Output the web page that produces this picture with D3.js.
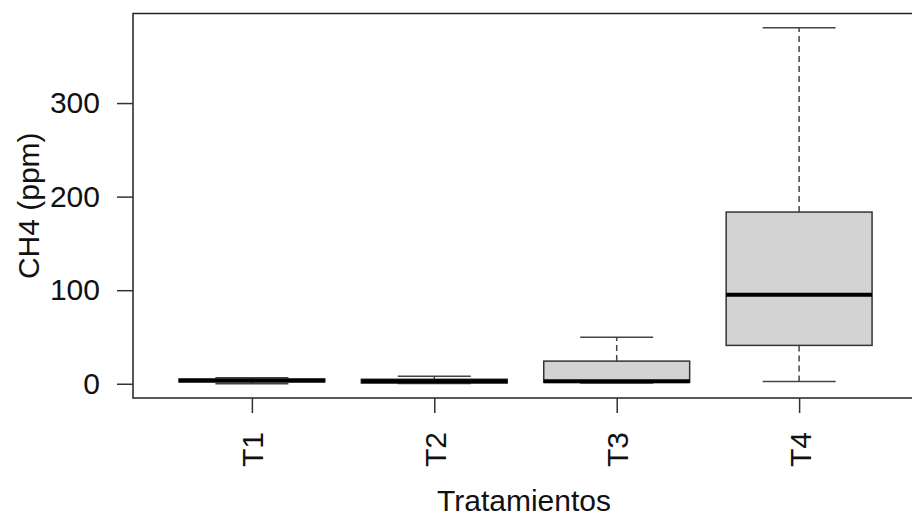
<!DOCTYPE html>
<html>
<head>
<meta charset="utf-8">
<script src="https://cdn.jsdelivr.net/npm/d3@7"></script>
<style>
  html, body { margin: 0; padding: 0; background: #fff; }
  svg { display: block; }
  text { font-family: "Liberation Sans", Arial, sans-serif; fill: #111; }
</style>
</head>
<body>
<svg id="chart" width="912" height="518"></svg>
<script>
// Treatments and their five-number summaries (CH4, ppm)
const categories = ["T1", "T2", "T3", "T4"];
const lowerWhisker = [0.0, 0.3, 0.8, 2.5];
const q1 = [2.0, 0.8, 1.5, 41.0];
const median = [3.6, 2.7, 2.7, 95.2];
const q3 = [5.0, 4.8, 24.2, 183.5];
const upperWhisker = [6.5, 8.0, 49.8, 380.5];
const yTicks = [0, 100, 200, 300];

const xTitle = "Tratamientos";
const yTitle = "CH4 (ppm)";

const svg = d3.select("#chart");
const fontSize = 30;

// Plot region (base-graphics style, 4% padding on both axes)
const plotLeft = 133, plotRight = 921, plotTop = 13.5, plotBottom = 398;

const yMin = d3.min(lowerWhisker), yMax = d3.max(upperWhisker);
const yPad = (yMax - yMin) * 0.04;
const y = d3.scaleLinear().domain([yMin - yPad, yMax + yPad]).range([plotBottom, plotTop]);

const n = categories.length;
const xPad = n * 0.04;
const x = d3.scaleLinear().domain([0.5 - xPad, n + 0.5 + xPad]).range([plotLeft - 1.5, plotRight - 1.5]);

const boxW = x(1.8) - x(1.0);      // box width: 0.8 of a slot
const capW = boxW / 2;             // staple width

const data = categories.map((c, i) => ({
  name: c, pos: i + 1,
  lo: lowerWhisker[i], q1: q1[i], med: median[i], q3: q3[i], hi: upperWhisker[i]
}));

const g = svg.append("g");

const boxes = g.selectAll("g.box").data(data).join("g").attr("class", "box");

// dashed whiskers
boxes.append("line")
  .attr("x1", d => x(d.pos)).attr("x2", d => x(d.pos))
  .attr("y1", d => y(d.q3)).attr("y2", d => y(d.hi))
  .attr("stroke", "#444").attr("stroke-width", 1.5).attr("stroke-dasharray", "6,4");
boxes.append("line")
  .attr("x1", d => x(d.pos)).attr("x2", d => x(d.pos))
  .attr("y1", d => y(d.q1)).attr("y2", d => y(d.lo))
  .attr("stroke", "#444").attr("stroke-width", 1.5).attr("stroke-dasharray", "6,4");

// staples
boxes.append("line")
  .attr("x1", d => x(d.pos) - capW / 2).attr("x2", d => x(d.pos) + capW / 2)
  .attr("y1", d => y(d.hi)).attr("y2", d => y(d.hi))
  .attr("stroke", "#444").attr("stroke-width", 1.5);
boxes.append("line")
  .attr("x1", d => x(d.pos) - capW / 2).attr("x2", d => x(d.pos) + capW / 2)
  .attr("y1", d => y(d.lo)).attr("y2", d => y(d.lo))
  .attr("stroke", "#444").attr("stroke-width", 1.5);

// boxes
boxes.append("rect")
  .attr("x", d => x(d.pos) - boxW / 2)
  .attr("width", boxW)
  .attr("y", d => y(d.q3))
  .attr("height", d => Math.max(0.5, y(d.q1) - y(d.q3)))
  .attr("fill", "#d3d3d3")
  .attr("stroke", "#333").attr("stroke-width", 1.5);

// medians
boxes.append("line")
  .attr("x1", d => x(d.pos) - boxW / 2).attr("x2", d => x(d.pos) + boxW / 2)
  .attr("y1", d => y(d.med)).attr("y2", d => y(d.med))
  .attr("stroke", "#000").attr("stroke-width", 4);

// frame
svg.append("rect")
  .attr("x", plotLeft).attr("y", plotTop)
  .attr("width", plotRight - plotLeft).attr("height", plotBottom - plotTop)
  .attr("fill", "none").attr("stroke", "#222").attr("stroke-width", 1.5);

// y axis
const yAxis = svg.append("g")
  .attr("transform", `translate(${plotLeft},0)`)
  .call(d3.axisLeft(y).tickValues(yTicks).tickSize(16).tickPadding(17));
yAxis.select(".domain").remove();
yAxis.selectAll(".tick line").attr("stroke", "#333").attr("stroke-width", 1.5);
yAxis.selectAll(".tick text")
  .attr("font-size", fontSize).attr("font-family", "Liberation Sans, Arial, sans-serif")
  .attr("fill", "#111");

// x axis
const xAxis = svg.append("g")
  .attr("transform", `translate(0,${plotBottom})`)
  .call(d3.axisBottom(x).tickValues(data.map(d => d.pos)).tickFormat(v => categories[v - 1]).tickSize(15));
xAxis.select(".domain").remove();
xAxis.selectAll(".tick line").attr("stroke", "#333").attr("stroke-width", 1.5);
xAxis.selectAll(".tick text")
  .attr("font-size", fontSize).attr("font-family", "Liberation Sans, Arial, sans-serif")
  .attr("fill", "#111")
  .attr("text-anchor", "end")
  .attr("y", 0).attr("dy", null)
  .attr("transform", "translate(11,34) rotate(-90)");

// axis titles
svg.append("text")
  .attr("x", (plotLeft + plotRight) / 2 - 3).attr("y", 511)
  .attr("text-anchor", "middle").attr("font-size", fontSize)
  .text(xTitle);

svg.append("text")
  .attr("transform", `translate(39,${(plotTop + plotBottom) / 2}) rotate(-90)`)
  .attr("text-anchor", "middle").attr("font-size", fontSize)
  .text(yTitle);
</script>
</body>
</html>
